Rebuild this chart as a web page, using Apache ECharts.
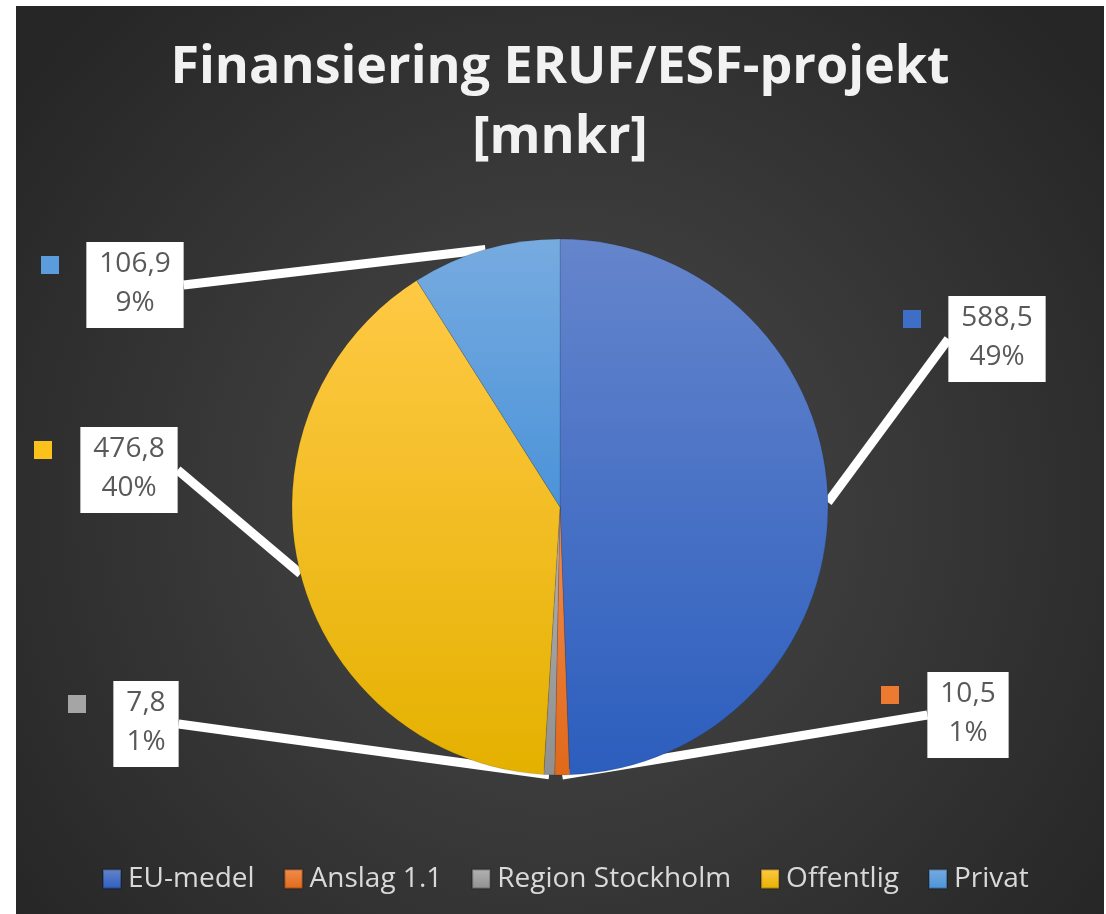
<!DOCTYPE html>
<html>
<head>
<meta charset="utf-8">
<script src="https://cdn.jsdelivr.net/npm/echarts@6/dist/echarts.min.js"></script>
<style>
  html, body { margin: 0; padding: 0; background: #fff; }
  #chart { position: absolute; left: 16px; top: 6px; width: 1088px; height: 908px; }
</style>
</head>
<body>
<div id="chart"></div>
<script>
const categories = ['EU-medel', 'Anslag 1.1', 'Region Stockholm', 'Offentlig', 'Privat']
const values = [588.5, 10.5, 7.8, 476.8, 106.9]

// gradient top -> bottom for each slice
const colorTop = ['#6585cc', '#f38d4f', '#b3b3b3', '#ffc945', '#77abe0']
const colorBottom = ['#2c5ebe', '#e0691a', '#8f8f8f', '#e4b100', '#4b93d9']
const keyColor = ['#3f6ec6', '#ed7a31', '#a5a5a5', '#fcc21c', '#5b9ddc']

// label box (center x, top y) and legend key square (left, top), container coords
const boxPos = [[981, 290], [952, 666], [130, 675], [113, 421], [119, 236]]
const keyPos = [[887, 304], [865, 680], [52, 689], [18, 435], [25, 250]]

const chart = echarts.init(document.getElementById('chart'))

const grad = (i) => new echarts.graphic.LinearGradient(0, 0, 0, 1, [
  { offset: 0, color: colorTop[i] },
  { offset: 1, color: colorBottom[i] }
])

const font = "'Open Sans', 'Noto Sans', sans-serif"

const option = {
  backgroundColor: new echarts.graphic.RadialGradient(0.5, 0.55, 0.75, [
    { offset: 0, color: '#4a4a4a' },
    { offset: 1, color: '#262626' }
  ]),
  animation: false,
  title: {
    text: 'Finansiering ERUF/ESF-projekt\n[mnkr]',
    left: 'center',
    top: 22,
    textStyle: {
      color: '#f2f2f2',
      fontFamily: font,
      fontWeight: 'bold',
      fontSize: 52,
      lineHeight: 70
    }
  },
  legend: {
    data: categories,
    left: 81,
    top: 854,
    icon: 'rect',
    itemWidth: 18,
    itemHeight: 19,
    itemGap: 29,
    textStyle: { color: '#d9d9d9', fontSize: 28, fontFamily: font, padding: [0, 0, 0, 2] }
  },
  series: [
    {
      type: 'pie',
      center: [544, 501],
      radius: 268,
      startAngle: 90,
      clockwise: true,
      avoidLabelOverlap: false,
      data: categories.map((name, i) => ({
        name,
        value: values[i],
        itemStyle: { color: grad(i) }
      })),
      itemStyle: { borderColor: 'rgba(0,0,0,0.25)', borderWidth: 0.5 },
      label: {
        show: true,
        position: 'outside',
        formatter: (p) => p.value.toFixed(1).replace('.', ',') + '\n' + Math.round(p.percent) + '%',
        backgroundColor: '#ffffff',
        color: '#595959',
        fontFamily: font,
        fontSize: 28,
        lineHeight: 39,
        padding: [3, 13, 5, 13]
      },
      labelLine: {
        show: true,
        length: 0,
        length2: 0,
        lineStyle: { color: '#ffffff', width: 9 }
      },
      labelLayout: (params) => ({
        x: boxPos[params.dataIndex][0],
        y: boxPos[params.dataIndex][1],
        align: 'center',
        verticalAlign: 'top'
      }),
      emphasis: { disabled: true }
    },
    {
      // legend keys beside the data labels
      type: 'pie',
      center: [544, 501],
      radius: 268,
      startAngle: 90,
      silent: true,
      z: 1,
      data: categories.map((name, i) => ({ name, value: values[i] })),
      itemStyle: { color: 'transparent' },
      label: {
        show: true,
        position: 'outside',
        formatter: (p) => '{k' + p.dataIndex + '|}',
        rich: Object.fromEntries(keyColor.map((c, i) => ['k' + i, { width: 18, height: 18, backgroundColor: c }]))
      },
      labelLine: { show: false },
      labelLayout: (params) => ({
        x: keyPos[params.dataIndex][0],
        y: keyPos[params.dataIndex][1],
        align: 'left',
        verticalAlign: 'top'
      }),
      emphasis: { disabled: true }
    }
  ]
}

chart.setOption(option)
</script>
</body>
</html>
